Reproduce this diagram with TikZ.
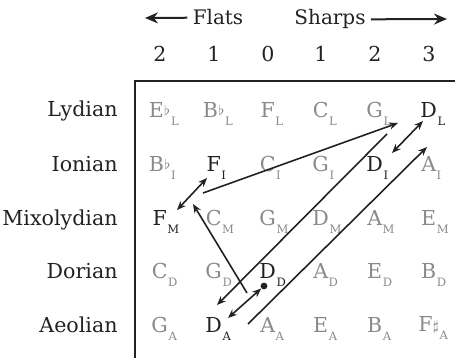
\documentclass[tikz,border=0pt]{standalone}
\usepackage{fontspec}
\setmainfont{DejaVu Serif}
\usepackage{xcolor}
\usepackage{tikz}
\usetikzlibrary{arrows.meta,positioning,calc}
\definecolor{ink}{HTML}{222222}
\definecolor{faded}{HTML}{8A8A8A}
\newcommand{\modesub}[1]{\kern0.3pt\rlap{\smash{\raisebox{-4pt}{\fontsize{5.8}{6}\selectfont #1}}}}
\newcommand{\fl}{\raisebox{1.2pt}{\fontsize{7}{7}\selectfont$\flat$}}
\newcommand{\shp}{\raisebox{0.6pt}{\fontsize{7}{7}\selectfont$\sharp$}}
\tikzstyle{note}    =[inner sep=0pt, text=faded, font=\fontsize{10.3}{12}\selectfont]
\tikzstyle{keynote} =[note, text=ink]
\tikzstyle{modename}=[anchor=base east, inner sep=0pt, text=ink,
                      font=\fontsize{10.3}{12}\selectfont]
\tikzstyle{count}   =[anchor=base, inner sep=0pt, text=ink, font=\fontsize{10.3}{12}\selectfont]
\tikzstyle{heading} =[anchor=base, inner sep=2.5pt, text=ink, font=\fontsize{10}{12}\selectfont]
\tikzstyle{arr}     =[-{Stealth[length=4.5pt,width=3.6pt]}, line width=0.8pt, draw=ink]
\tikzstyle{dbl}     =[{Stealth[length=4.5pt,width=3.6pt]}-{Stealth[length=4.5pt,width=3.6pt]},
                      line width=0.8pt, draw=ink]
\tikzstyle{hdr}     =[-{Stealth[length=6.5pt,width=5.5pt]}, line width=1pt, draw=ink]
\tikzstyle{dot}     =[circle, fill=ink, inner sep=0pt, minimum size=3.4pt]

\begin{document}
\begin{tikzpicture}[x=0.5pt, y=-0.5pt]
  \useasboundingbox (0,0) rectangle (455,358);

  % ── header ─────────────────────────────────────────────────────────────────
  \node[heading] (flats)  at (218, 25) {Flats};
  \node[heading] (sharps) at (330, 25) {Sharps};
  \coordinate (flatstip)  at (145, 18);
  \coordinate (sharpstip) at (447, 19);
  \draw[hdr] (flats)  -- (flatstip);
  \draw[hdr] (sharps) -- (sharpstip);

  \node[count] (n0) at (160, 62) {2};
  \node[count] (n1) at (214, 62) {1};
  \node[count] (n2) at (268, 62) {0};
  \node[count] (n3) at (321, 62) {1};
  \node[count] (n4) at (375, 62) {2};
  \node[count] (n5) at (429, 62) {3};

  % ── frame ──────────────────────────────────────────────────────────────────
  \draw[line width=0.9pt, ink] (135, 358) |- (455, 81);

  % ── mode names ─────────────────────────────────────────────────────────────
  \node[modename] (lyd) at (118, 117) {Lydian};
  \node[modename] (ion) at (118, 171) {Ionian};
  \node[modename] (mix) at (118, 225) {Mixolydian};
  \node[modename] (dor) at (118, 278) {Dorian};
  \node[modename] (aeo) at (118, 332) {Aeolian};

  % ── notes ──────────────────────────────────────────────────────────────────
  \node[note]    (EbL) at (160, 110) {E\fl\modesub{L}};
  \node[note]    (BbL) at (214, 110) {B\fl\modesub{L}};
  \node[note]    (FL)  at (268, 110) {F\modesub{L}};
  \node[note]    (CL)  at (321, 110) {C\modesub{L}};
  \node[note]    (GL)  at (375, 110) {G\modesub{L}};
  \node[keynote] (DL)  at (429, 110) {D\modesub{L}};

  \node[note]    (BbI) at (160, 164) {B\fl\modesub{I}};
  \node[keynote] (FI)  at (214, 164) {F\modesub{I}};
  \node[note]    (CI)  at (268, 164) {C\modesub{I}};
  \node[note]    (GI)  at (321, 164) {G\modesub{I}};
  \node[keynote] (DI)  at (375, 164) {D\modesub{I}};
  \node[note]    (AI)  at (429, 164) {A\modesub{I}};

  \node[keynote] (FM)  at (160, 218) {F\modesub{M}};
  \node[note]    (CM)  at (214, 218) {C\modesub{M}};
  \node[note]    (GM)  at (268, 218) {G\modesub{M}};
  \node[note]    (DM)  at (321, 218) {D\modesub{M}};
  \node[note]    (AM)  at (375, 218) {A\modesub{M}};
  \node[note]    (EM)  at (429, 218) {E\modesub{M}};

  \node[note]    (CD)  at (160, 271) {C\modesub{D}};
  \node[note]    (GD)  at (214, 271) {G\modesub{D}};
  \node[keynote] (DD)  at (268, 271) {D\modesub{D}};
  \node[note]    (AD)  at (321, 271) {A\modesub{D}};
  \node[note]    (ED)  at (375, 271) {E\modesub{D}};
  \node[note]    (BD)  at (429, 271) {B\modesub{D}};

  \node[note]    (GA)  at (160, 325) {G\modesub{A}};
  \node[keynote] (DA)  at (214, 325) {D\modesub{A}};
  \node[note]    (AA)  at (268, 325) {A\modesub{A}};
  \node[note]    (EA)  at (321, 325) {E\modesub{A}};
  \node[note]    (BA)  at (375, 325) {B\modesub{A}};
  \node[note]    (FsA) at (429, 325) {F\shp\modesub{A}};

  % ── arrow ends ─────────────────────────────────────────────────────────────
  \coordinate (FMa) at ($(FM)+(17,-8)$);
  \coordinate (FIa) at ($(FI)+(-7,14)$);
  \coordinate (FIb) at ($(FI)+(-11,29)$);
  \coordinate (GLa) at ($(GL)+(23,13)$);
  \coordinate (GLb) at ($(GL)+(12,24)$);
  \coordinate (DIa) at ($(DI)+(17,-11)$);
  \coordinate (DLa) at ($(DL)+(-6,11)$);
  \coordinate (DLb) at ($(DL)+(-2,37)$);
  \coordinate (DAa) at ($(DA)+(3,-20)$);
  \coordinate (DAb) at ($(DA)+(14,-7)$);
  \coordinate (AAa) at ($(AA)+(-20,-1)$);
  \coordinate (DDa) at ($(DD)+(-21,22)$);
  \coordinate (FMb) at ($(FM)+(33,-14)$);
  \node[dot] (DDdot) at ($(DD)+(-4,15)$) {};

  % ── moves ──────────────────────────────────────────────────────────────────
  \draw[dbl] (FMa) -- (FIa);
  \draw[arr] (FIb) -- (GLa);
  \draw[dbl] (DIa) -- (DLa);
  \draw[arr] (GLb) -- (DAa);
  \draw[arr] (AAa) -- (DLb);
  \draw[arr] (DDa) -- (FMb);
  \draw[dbl] (DAb) -- (DDdot);

\end{tikzpicture}
\end{document}
